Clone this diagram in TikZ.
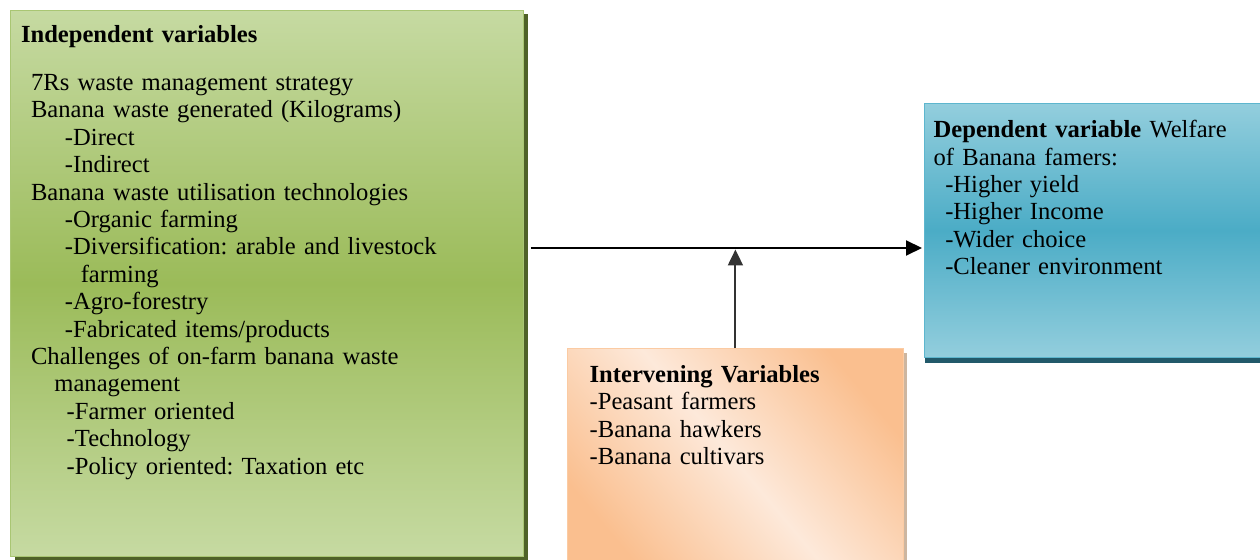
\documentclass[tikz,border=0pt]{standalone}
\usepackage{fontspec}
\setmainfont{Liberation Serif}
\usetikzlibrary{arrows.meta,shadows}
\frenchspacing
\definecolor{indeplight}{HTML}{C6DAA2}
\definecolor{indepdark}{HTML}{9BBB59}
\definecolor{indepline}{HTML}{A9C673}
\definecolor{indepshadow}{HTML}{4F6228}
\definecolor{deplight}{HTML}{93CEDD}
\definecolor{depdark}{HTML}{4BACC6}
\definecolor{depline}{HTML}{5DB6CE}
\definecolor{depshadow}{HTML}{22596A}
\definecolor{intervdark}{HTML}{FABF8F}
\definecolor{intervlight}{HTML}{FDE9DA}
\definecolor{intervline}{HTML}{FBCBA3}
\definecolor{intervshadow}{HTML}{CDB6A0}
\begin{document}
\begin{tikzpicture}[x=0.02cm,y=-0.02cm,
  varbox/.style={anchor=north west, inner sep=0pt, line width=0.5pt},
  vartext/.style={anchor=base west, inner sep=0pt, align=left,
    font=\fontsize{14}{15.6}\selectfont},
  arr/.style={line width=1.1pt, -{Triangle[length=0.32cm, width=0.3cm]}}]
  \useasboundingbox (0,0) rectangle (1260,560);
  \node[varbox, draw=indepline, top color=indeplight, bottom color=indeplight,
    middle color=indepdark, minimum width=10.26cm, minimum height=10.92cm,
    drop shadow={shadow xshift=0.1cm, shadow yshift=-0.08cm, fill=indepshadow, opacity=1}]
    (indep) at (10,10) {};
  \node[varbox, draw=depline, top color=deplight, bottom color=deplight,
    middle color=depdark, minimum width=6.9cm, minimum height=5.08cm,
    drop shadow={shadow xshift=0.02cm, shadow yshift=-0.12cm, fill=depshadow, opacity=1}]
    (dep) at (924,103) {};
  \node[varbox, draw=intervline, top color=intervdark, bottom color=intervdark,
    middle color=intervlight, shading angle=-50, minimum width=6.72cm, minimum height=4.5cm,
    drop shadow={shadow xshift=0.08cm, shadow yshift=-0.1cm, fill=intervshadow, opacity=1}]
    (interv) at (567,348) {};
  \node[vartext, text width=10cm] (indeptext) at (20.7,42.7)
    {\textbf{Independent variables}\\[11.6pt]
     \hspace*{5.7pt}7Rs waste management strategy\\
     \hspace*{5.7pt}Banana waste generated (Kilograms)\\
     \hspace*{25pt}-Direct\\
     \hspace*{25pt}-Indirect\\
     \hspace*{5.7pt}Banana waste utilisation technologies\\
     \hspace*{25pt}-Organic farming\\
     \hspace*{25pt}-Diversification: arable and livestock\\
     \hspace*{34pt}farming\\
     \hspace*{25pt}-Agro-forestry\\
     \hspace*{25pt}-Fabricated items/products\\
     \hspace*{5.7pt}Challenges of on-farm banana waste\\
     \hspace*{19pt}management\\
     \hspace*{26pt}-Farmer oriented\\
     \hspace*{26pt}-Technology\\
     \hspace*{26pt}-Policy oriented: Taxation etc};
  \node[vartext, text width=6.6cm] (deptext) at (933.3,137.7)
    {\textbf{Dependent variable} Welfare\\
     of Banana famers:\\
     \hspace*{6.6pt}-Higher yield\\
     \hspace*{6.6pt}-Higher Income\\
     \hspace*{6.6pt}-Wider choice\\
     \hspace*{6.6pt}-Cleaner environment};
  \node[vartext, text width=6.4cm] (intervtext) at (589.3,382.3)
    {\textbf{Intervening Variables}\\
     -Peasant farmers\\
     -Banana hawkers\\
     -Banana cultivars};
  \coordinate (junc) at (736,248);
  \draw[arr, shorten <=0.14cm, shorten >=0.04cm] (indep.east |- junc) -- (dep.west |- junc);
  \draw[arr, black!80, shorten >=0.03cm] (interv.north) -- (interv.north |- junc);
\end{tikzpicture}
\end{document}
